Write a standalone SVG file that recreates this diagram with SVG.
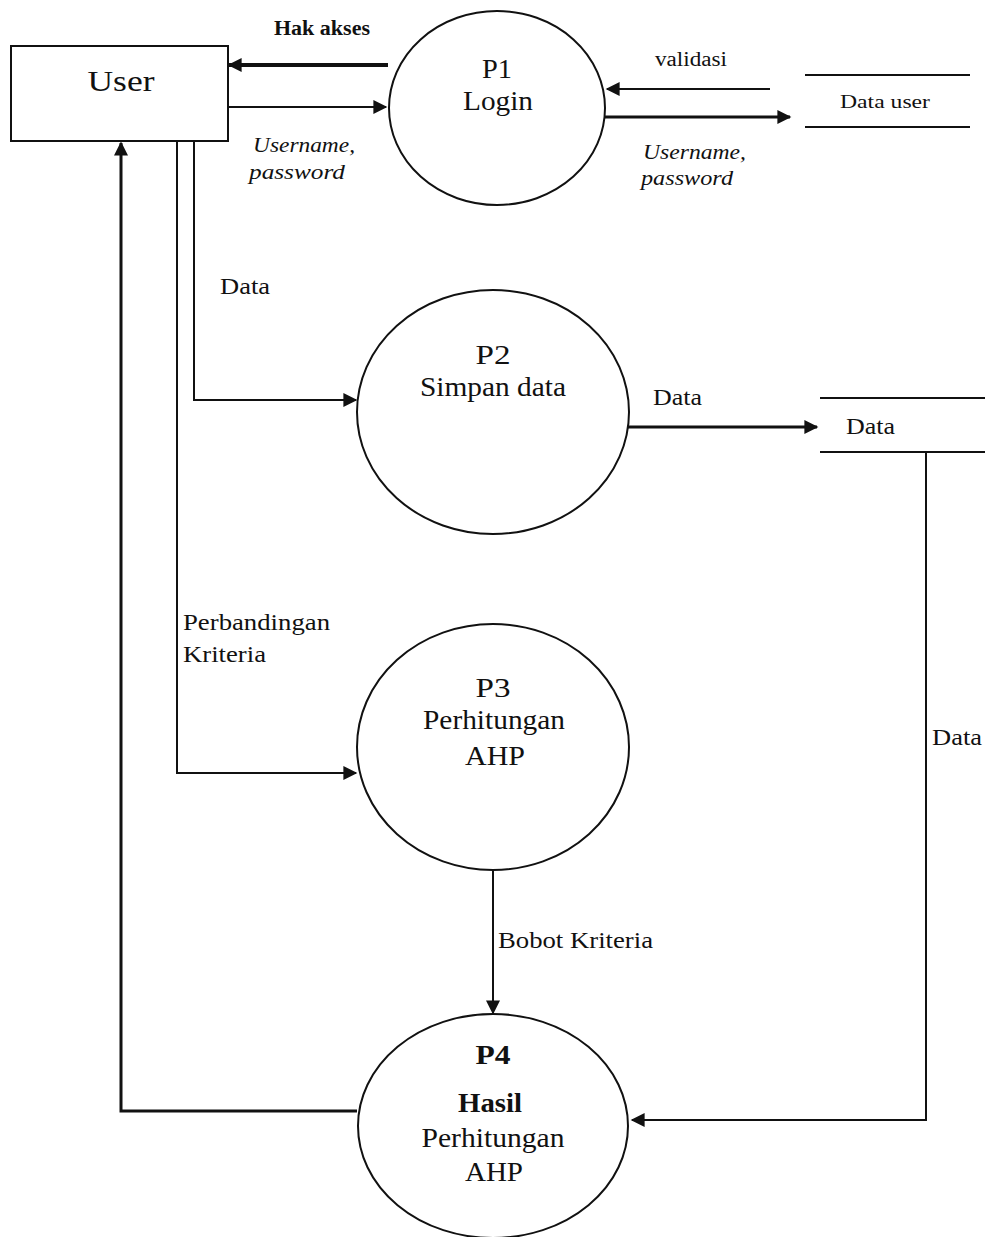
<svg xmlns="http://www.w3.org/2000/svg" width="985" height="1237" viewBox="0 0 985 1237">
  <style>
    text { font-family: "Liberation Serif", "Times New Roman", serif; fill: #111; }
    .node { fill: #fff; stroke: #111; stroke-width: 2; }
    .store { stroke: #111; stroke-width: 2; fill: none; }
    .flow { stroke: #111; fill: none; stroke-width: 2; }
    .thick { stroke-width: 4; }
    .mid { stroke-width: 3; }
    .lbl { font-size: 23px; }
    .small { font-size: 20px; }
    .it { font-style: italic; font-size: 21px; }
    .title { font-size: 27px; text-anchor: middle; }
  </style>
  <defs>
    <marker id="arr" viewBox="0 0 10 10" refX="9" refY="5" markerWidth="18" markerHeight="14" markerUnits="userSpaceOnUse" orient="auto">
      <path d="M0,0 L10,5 L0,10 z" fill="#111"/>
    </marker>
  </defs>
  <rect width="985" height="1237" fill="#fff"/>

  <!-- data flows -->
  <g id="connectors">
    <line class="flow thick" x1="388" y1="65" x2="229" y2="65" marker-end="url(#arr)"/>
    <line class="flow" x1="229" y1="107" x2="386" y2="107" marker-end="url(#arr)"/>
    <line class="flow" x1="770" y1="89" x2="607" y2="89" marker-end="url(#arr)"/>
    <line class="flow mid" x1="605" y1="117" x2="790" y2="117" marker-end="url(#arr)"/>
    <polyline class="flow" points="194,141 194,400 356,400" marker-end="url(#arr)"/>
    <line class="flow mid" x1="628" y1="427" x2="817" y2="427" marker-end="url(#arr)"/>
    <polyline class="flow" points="177,141 177,773 356,773" marker-end="url(#arr)"/>
    <line class="flow" x1="493" y1="870" x2="493" y2="1013" marker-end="url(#arr)"/>
    <polyline class="flow" points="926,452 926,1120 632,1120" marker-end="url(#arr)"/>
    <polyline class="flow mid" points="357,1111 121,1111 121,143" marker-end="url(#arr)"/>

    <text class="small" x="274" y="35" font-weight="bold" textLength="96" lengthAdjust="spacingAndGlyphs">Hak akses</text>
    <text class="it" x="253" y="152" textLength="102" lengthAdjust="spacingAndGlyphs">Username,</text>
    <text class="it" x="249" y="179" textLength="96" lengthAdjust="spacingAndGlyphs">password</text>
    <text class="small" x="655" y="66" textLength="72" lengthAdjust="spacingAndGlyphs">validasi</text>
    <text class="it" x="643" y="159" textLength="103" lengthAdjust="spacingAndGlyphs">Username,</text>
    <text class="it" x="641" y="185" textLength="92" lengthAdjust="spacingAndGlyphs">password</text>
    <text class="lbl" x="220" y="294" textLength="50" lengthAdjust="spacingAndGlyphs">Data</text>
    <text class="lbl" x="653" y="405" textLength="49" lengthAdjust="spacingAndGlyphs">Data</text>
    <text class="lbl" x="183" y="630" textLength="147" lengthAdjust="spacingAndGlyphs">Perbandingan</text>
    <text class="lbl" x="183" y="662" textLength="83" lengthAdjust="spacingAndGlyphs">Kriteria</text>
    <text class="lbl" x="498" y="948" textLength="155" lengthAdjust="spacingAndGlyphs">Bobot Kriteria</text>
    <text class="lbl" x="932" y="745" textLength="50" lengthAdjust="spacingAndGlyphs">Data</text>
  </g>

  <g id="user">
    <rect class="node" x="11" y="46" width="217" height="95"/>
    <text x="121" y="91" font-size="30" text-anchor="middle" textLength="67" lengthAdjust="spacingAndGlyphs">User</text>
  </g>

  <g id="p1">
    <ellipse class="node" cx="497" cy="108" rx="108" ry="97"/>
    <text class="title" x="497" y="78" textLength="30" lengthAdjust="spacingAndGlyphs">P1</text>
    <text class="title" x="498" y="110" textLength="70" lengthAdjust="spacingAndGlyphs">Login</text>
  </g>

  <g id="data-user">
    <line class="store" x1="805" y1="75" x2="970" y2="75"/>
    <line class="store" x1="805" y1="127" x2="970" y2="127"/>
    <text x="885" y="108" font-size="18" text-anchor="middle" textLength="90" lengthAdjust="spacingAndGlyphs">Data user</text>
  </g>

  <g id="p2">
    <ellipse class="node" cx="493" cy="412" rx="136" ry="122"/>
    <text class="title" x="493" y="364" textLength="35" lengthAdjust="spacingAndGlyphs">P2</text>
    <text class="title" x="493" y="396" textLength="146" lengthAdjust="spacingAndGlyphs">Simpan data</text>
  </g>

  <g id="data-store">
    <line class="store" x1="820" y1="398" x2="985" y2="398"/>
    <line class="store" x1="820" y1="452" x2="985" y2="452"/>
    <text class="lbl" x="846" y="434" textLength="49" lengthAdjust="spacingAndGlyphs">Data</text>
  </g>

  <g id="p3">
    <ellipse class="node" cx="493" cy="747" rx="136" ry="123"/>
    <text class="title" x="493" y="697" textLength="35" lengthAdjust="spacingAndGlyphs">P3</text>
    <text class="title" x="494" y="729" textLength="142" lengthAdjust="spacingAndGlyphs">Perhitungan</text>
    <text class="title" x="495" y="765" textLength="60" lengthAdjust="spacingAndGlyphs">AHP</text>
  </g>

  <g id="p4">
    <ellipse class="node" cx="493" cy="1126" rx="135" ry="112"/>
    <text class="title" x="493" y="1064" font-weight="bold" textLength="35" lengthAdjust="spacingAndGlyphs">P4</text>
    <text class="title" x="490" y="1112" font-weight="bold" textLength="64" lengthAdjust="spacingAndGlyphs">Hasil</text>
    <text class="title" x="493" y="1147" textLength="143" lengthAdjust="spacingAndGlyphs">Perhitungan</text>
    <text class="title" x="494" y="1181" textLength="58" lengthAdjust="spacingAndGlyphs">AHP</text>
  </g>
</svg>
